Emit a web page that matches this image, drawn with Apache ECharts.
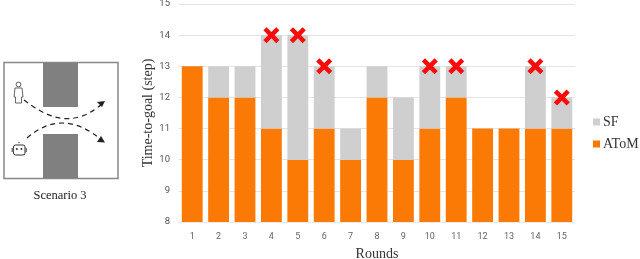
<!DOCTYPE html>
<html>
<head>
<meta charset="utf-8">
<style>html,body{margin:0;padding:0;background:#fff}#c{width:640px;height:259px}</style>
<script src="https://cdn.jsdelivr.net/npm/echarts@6/dist/echarts.min.js"></script>
</head>
<body>
<div id="c"></div>
<script>
const rounds = ['1','2','3','4','5','6','7','8','9','10','11','12','13','14','15'];
const atomValues = [13,12,12,11,10,11,10,12,10,11,12,11,11,11,11];
const sfExtra = [0,1,1,3,4,2,1,1,2,2,1,0,0,2,1];
const failedRounds = ['4','5','6','10','11','14','15'];
const failedSteps = [14,14,13,13,13,13,12];
const yTicks = {min:8,max:15,interval:1};

const cross = 'path://M4 0 L10 6 L16 0 L20 4 L14 10 L20 16 L16 20 L10 14 L4 20 L0 16 L6 10 L0 4 Z';
const serif = '"Liberation Serif","Times New Roman",serif';
const dash = {stroke:'#222',lineWidth:1.2,lineDash:[5,4],fill:null};

const chart = echarts.init(document.getElementById('c'),null,{renderer:'canvas'});
chart.setOption({
  animation:false,
  backgroundColor:'#fff',
  grid:{left:179,right:65,top:4,bottom:37,outerBoundsMode:'none'},
  legend:{
    data:['SF','AToM'],orient:'vertical',left:588,top:110,itemWidth:7,itemHeight:7,itemGap:8,
    icon:'rect',selectedMode:false,
    textStyle:{fontFamily:serif,fontSize:14,color:'#333',padding:[0,0,0,-2]}
  },
  xAxis:{
    type:'category',data:rounds,
    name:'Rounds',nameLocation:'middle',nameGap:25,
    nameTextStyle:{fontFamily:serif,fontSize:14,color:'#333'},
    axisLine:{show:true,lineStyle:{color:'#ececec'}},axisTick:{show:false},
    axisLabel:{fontFamily:'Roboto,sans-serif',fontSize:9,color:'#666',margin:10,interval:0}
  },
  yAxis:{
    type:'value',min:yTicks.min,max:yTicks.max,interval:yTicks.interval,
    name:'Time-to-goal (step)',nameLocation:'middle',nameGap:24,nameRotate:90,nameMoveOverlap:false,
    nameTextStyle:{fontFamily:serif,fontSize:14,color:'#333'},
    axisLine:{show:false},axisTick:{show:false},
    axisLabel:{fontFamily:'Roboto,sans-serif',fontSize:9.5,color:'#555',margin:9},
    splitLine:{lineStyle:{color:'#e4e4e4',width:1}}
  },
  series:[
    {name:'AToM',type:'bar',stack:'t',data:atomValues,barWidth:'79%',itemStyle:{color:'#fb7a05'}},
    {name:'SF',type:'bar',stack:'t',data:sfExtra,barWidth:'79%',itemStyle:{color:'#cfcfcf'}},
    {name:'Failed',type:'scatter',data:failedRounds.map((r,i)=>[r,failedSteps[i]]),
     symbol:cross,symbolSize:16,itemStyle:{color:'#fb0a0a',opacity:1},z:5}
  ],
  graphic:[
    {type:'rect',shape:{x:4,y:62.5,width:114,height:116},style:{fill:'#fff',stroke:'#888',lineWidth:1.5}},
    {type:'rect',shape:{x:43,y:63,width:35,height:44},style:{fill:'#808080'}},
    {type:'rect',shape:{x:43,y:134,width:35,height:44},style:{fill:'#808080'}},
    {type:'circle',shape:{cx:18.5,cy:84.5,r:2.4},style:{fill:'#fff',stroke:'#444',lineWidth:0.9}},
    {type:'polygon',shape:{points:[[15,88],[22,88],[23,97],[21.5,97],[21.5,103],[15.5,103],[15.5,97],[14,97]]},style:{fill:'#fff',stroke:'#555',lineWidth:0.9}},
    {type:'rect',shape:{x:13.5,y:145,width:11.5,height:10,r:2},style:{fill:'#fff',stroke:'#333',lineWidth:1}},
    {type:'rect',shape:{x:11.5,y:148,width:2,height:4},style:{fill:'#777'}},
    {type:'rect',shape:{x:25,y:148,width:2,height:4},style:{fill:'#777'}},
    {type:'circle',shape:{cx:16.8,cy:149,r:1},style:{fill:'#333'}},
    {type:'circle',shape:{cx:21.5,cy:149,r:1},style:{fill:'#333'}},
    {type:'circle',shape:{cx:19,cy:142.5,r:0.8},style:{fill:'#555'}},
    {type:'bezierCurve',shape:{x1:24,y1:100,cpx1:45,cpy1:116,cpx2:72,cpy2:131,x2:103,y2:103},style:dash},
    {type:'bezierCurve',shape:{x1:27,y1:138,cpx1:48,cpy1:120,cpx2:72,cpy2:115,x2:103,y2:141},style:dash},
    {type:'polygon',shape:{points:[[105,101],[97,102],[102,107]]},style:{fill:'#222'}},
    {type:'polygon',shape:{points:[[105,142.5],[97,142],[101,136]]},style:{fill:'#222'}},
    {type:'text',style:{x:60,y:195.5,text:'Scenario 3',align:'center',verticalAlign:'middle',font:'12.5px '+serif,fill:'#222'}}
  ]
});
</script>
</body>
</html>
